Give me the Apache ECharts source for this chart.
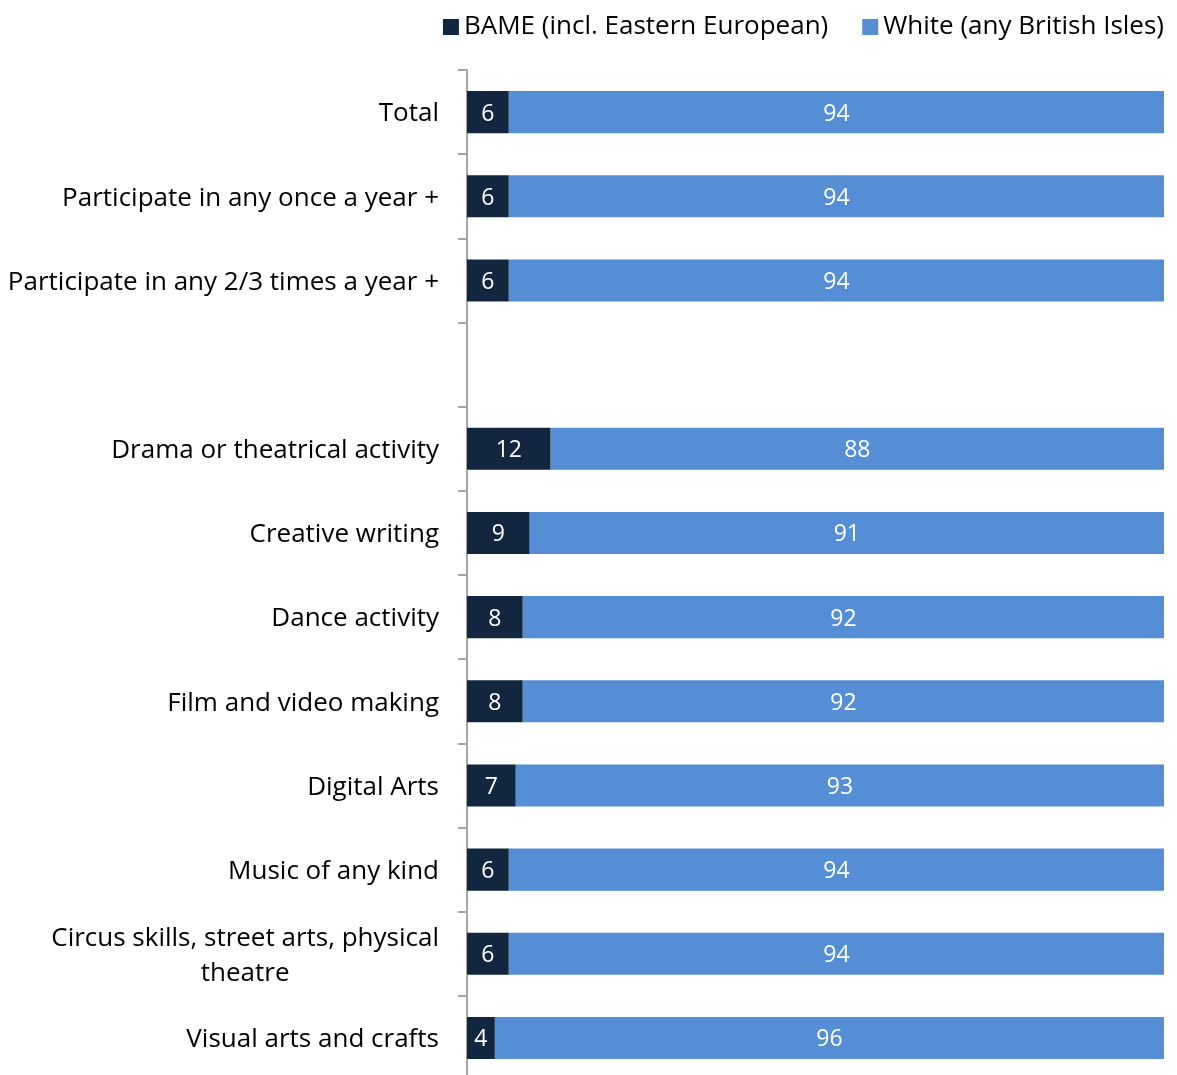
<!DOCTYPE html>
<html>
<head>
<meta charset="utf-8">
<script src="https://cdn.jsdelivr.net/npm/echarts@6/dist/echarts.min.js"></script>
<style>
  html, body { margin: 0; padding: 0; background: #fff; }
  #chart { width: 1177px; height: 1075px; }
</style>
</head>
<body>
<div id="chart"></div>
<script>
// Participation by ethnicity, percentage split per activity
const categories = [
  'Total',
  'Participate in any once a year +',
  'Participate in any 2/3 times a year +',
  '',
  'Drama or theatrical activity',
  'Creative writing',
  'Dance activity',
  'Film and video making',
  'Digital Arts',
  'Music of any kind',
  'Circus skills, street arts, physical\ntheatre',
  'Visual arts and crafts'
];
const bameValues = [6, 6, 6, null, 12, 9, 8, 8, 7, 6, 6, 4];
const whiteValues = [94, 94, 94, null, 88, 91, 92, 92, 93, 94, 94, 96];

const FONT = '"Open Sans", Lato, sans-serif';

const chart = echarts.init(document.getElementById('chart'), null, { renderer: 'canvas' });

chart.setOption({
  animation: false,
  textStyle: { fontFamily: FONT },
  legend: {
    top: 9,
    right: 8,
    itemWidth: 16,
    itemHeight: 16,
    itemGap: 34,
    icon: 'rect',
    textStyle: { fontSize: 26, color: '#000', fontFamily: FONT },
    data: ['BAME (incl. Eastern European)', 'White (any British Isles)']
  },
  grid: { left: 467, right: 13, top: 70, height: 1010, outerBoundsMode: 'none', containLabel: false },
  xAxis: {
    type: 'value',
    min: 0,
    max: 100,
    show: false
  },
  yAxis: {
    type: 'category',
    inverse: true,
    data: categories,
    axisLine: { show: true, lineStyle: { color: '#a6a6a6', width: 2 } },
    axisTick: { show: true, length: 9, lineStyle: { color: '#a6a6a6', width: 2 } },
    axisLabel: {
      margin: 28,
      color: '#000',
      fontSize: 26,
      fontFamily: FONT,
      lineHeight: 35,
      formatter: function (v) {
        return v.split('\n').map(function (s) { return '{c|' + s + '}'; }).join('\n');
      },
      rich: {
        c: { align: 'center', fontSize: 26, lineHeight: 35, color: '#000', fontFamily: FONT }
      },
      padding: [4, 0, 0, 0]
    }
  },
  series: [
    {
      name: 'BAME (incl. Eastern European)',
      type: 'bar',
      stack: 'total',
      barWidth: '50%',
      itemStyle: { color: '#12263f' },
      label: { show: true, position: 'inside', offset: [0, 2], color: '#fff', fontSize: 23, fontFamily: FONT },
      data: bameValues
    },
    {
      name: 'White (any British Isles)',
      type: 'bar',
      stack: 'total',
      barWidth: '50%',
      itemStyle: { color: '#558ed5' },
      label: { show: true, position: 'inside', offset: [0, 2], color: '#fff', fontSize: 23, fontFamily: FONT },
      data: whiteValues
    }
  ]
});
</script>
</body>
</html>
